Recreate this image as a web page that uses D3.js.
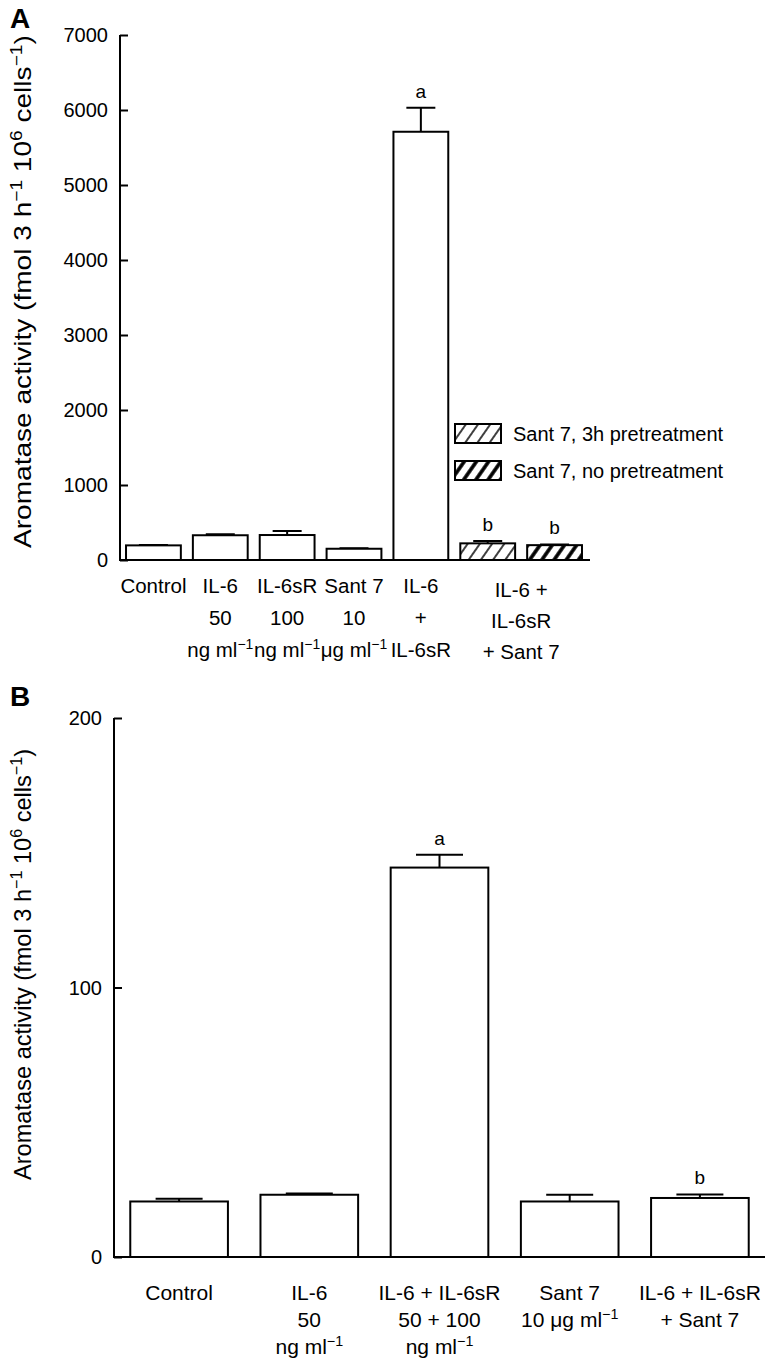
<!DOCTYPE html>
<html>
<head>
<meta charset="utf-8">
<script src="https://cdn.jsdelivr.net/npm/d3@7"></script>
<style>
  html, body { margin: 0; padding: 0; background: #fff; }
  svg text { font-family: "Liberation Sans", Arial, Helvetica, sans-serif; fill: #000; }
</style>
</head>
<body>
<svg id="chart" width="768" height="1365"></svg>
<script>
// ---------- Data: panel A ----------
const categoriesA = ["Control", "IL-6", "IL-6sR", "Sant 7", "IL-6 + IL-6sR", "Sant 7, 3h pretreatment", "Sant 7, no pretreatment"];
const valuesA = [195, 330, 333, 150, 5710, 222, 198];
const errorsA = [6, 12, 54, 8, 320, 33, 9];
const lettersA = ["", "", "", "", "a", "b", "b"];
const fillsA = ["none", "none", "none", "none", "none", "light", "dark"];
const ticksA = [0, 1000, 2000, 3000, 4000, 5000, 6000, 7000];
const labelsA = [
  [["Control"]],
  [["IL-6"], ["50"], ["ng ml", "sup:\u22121"]],
  [["IL-6sR"], ["100"], ["ng ml", "sup:\u22121"]],
  [["Sant 7"], ["10"], ["\u03bcg ml", "sup:\u22121"]],
  [["IL-6"], ["+"], ["IL-6sR"]]
];
const groupLabelA = [["IL-6 +"], ["IL-6sR"], ["+ Sant 7"]];
const legendA = ["Sant 7, 3h pretreatment", "Sant 7, no pretreatment"];

// ---------- Data: panel B ----------
const categoriesB = ["Control", "IL-6", "IL-6 + IL-6sR", "Sant 7", "IL-6 + IL-6sR + Sant 7"];
const valuesB = [20.6, 23.1, 144.5, 20.6, 21.9];
const errorsB = [1.0, 0.5, 4.8, 2.5, 1.3];
const lettersB = ["", "", "a", "", "b"];
const ticksB = [0, 100, 200];
const labelsB = [
  [["Control"]],
  [["IL-6"], ["50"], ["ng ml", "sup:\u22121"]],
  [["IL-6 + IL-6sR"], ["50 + 100"], ["ng ml", "sup:\u22121"]],
  [["Sant 7"], ["10 \u03bcg ml", "sup:\u22121"]],
  [["IL-6 + IL-6sR"], ["+ Sant 7"]]
];

const yTitleParts = ["Aromatase activity (fmol 3 h", "sup:\u22121", " 10", "sup:6", " cells", "sup:\u22121", ")"];

const svg = d3.select("#chart");
const defs = svg.append("defs");
function hatch(id, spacing, sw) {
  const p = defs.append("pattern").attr("id", id)
    .attr("patternUnits", "userSpaceOnUse")
    .attr("width", spacing).attr("height", spacing)
    .attr("patternTransform", "rotate(35)");
  p.append("rect").attr("width", spacing).attr("height", spacing).attr("fill", "#fff");
  p.append("line").attr("x1", spacing / 2).attr("y1", -1).attr("x2", spacing / 2).attr("y2", spacing + 1)
    .attr("stroke", "#000").attr("stroke-width", sw);
}
hatch("hLight", 10, 1.5);
hatch("hDark", 10, 3.6);
const fillOf = f => f === "light" ? "url(#hLight)" : f === "dark" ? "url(#hDark)" : "#fff";

// write a text made of parts (plain or "sup:...")
function richText(sel, parts, size) {
  parts.forEach(p => {
    if (p.startsWith("sup:")) {
      sel.append("tspan").attr("baseline-shift", "super").attr("font-size", size * 0.68).text(p.slice(4));
    } else {
      sel.append("tspan").text(p);
    }
  });
}

function panel(cfg) {
  const g = svg.append("g");
  const x = d3.scaleBand().domain(cfg.categories).range(cfg.xRange)
    .paddingInner(cfg.padIn).paddingOuter(cfg.padOut);
  const y = d3.scaleLinear().domain(cfg.yDomain).range(cfg.yRange);

  // y axis
  const yAxis = d3.axisRight(y).tickValues(cfg.ticks).tickSize(cfg.tickLen).tickFormat("");
  const ya = g.append("g").attr("transform", `translate(${cfg.xRange[0]},0)`).call(yAxis);
  ya.select(".domain").attr("stroke", "#000").attr("stroke-width", 2)
    .attr("d", `M0,${cfg.yRange[1]}V${cfg.yRange[0]}`);
  ya.selectAll(".tick line").attr("stroke", "#000").attr("stroke-width", 2);
  g.selectAll(".ylab").data(cfg.ticks).join("text")
    .attr("x", cfg.xRange[0] - cfg.labGap).attr("y", d => y(d) + 7)
    .attr("text-anchor", "end").attr("font-size", cfg.tickFs).text(d => d);

  // baseline
  g.append("line").attr("x1", cfg.xRange[0] - 1).attr("x2", cfg.baseEnd)
    .attr("y1", y(0)).attr("y2", y(0)).attr("stroke", "#000").attr("stroke-width", 2);

  // bars
  const data = cfg.categories.map((c, i) => ({ c, v: cfg.values[i], e: cfg.errors[i], l: cfg.letters[i], f: cfg.fills ? cfg.fills[i] : "none" }));
  g.selectAll(".err").data(data).join("path")
    .attr("d", d => {
      const cx = x(d.c) + x.bandwidth() / 2;
      return `M${cx},${y(d.v)}V${y(d.v + d.e)}M${cx - cfg.cap / 2},${y(d.v + d.e)}H${cx + cfg.cap / 2}`;
    })
    .attr("stroke", "#000").attr("stroke-width", 2).attr("fill", "none");
  g.selectAll(".bar").data(data).join("rect")
    .attr("x", d => x(d.c)).attr("width", x.bandwidth())
    .attr("y", d => y(d.v)).attr("height", d => y(0) - y(d.v))
    .attr("fill", d => fillOf(d.f)).attr("stroke", "#000").attr("stroke-width", 2);
  g.selectAll(".let").data(data.filter(d => d.l)).join("text")
    .attr("x", d => x(d.c) + x.bandwidth() / 2).attr("y", d => y(d.v + d.e) - cfg.letGap)
    .attr("text-anchor", "middle").attr("font-size", 19).text(d => d.l);

  // category labels
  cfg.labels.forEach((lines, i) => {
    const cx = x(cfg.categories[i]) + x.bandwidth() / 2;
    lines.forEach((parts, j) => {
      const t = g.append("text").attr("x", cx).attr("y", cfg.labY + j * cfg.lineH)
        .attr("text-anchor", "middle").attr("font-size", cfg.fs);
      richText(t, parts, cfg.fs);
    });
  });

  // y title (pinned at its lower end)
  const yt = g.append("text")
    .attr("transform", `translate(${cfg.titleX},${cfg.titleBottom}) rotate(-90) scale(${cfg.titleStretch},1)`)
    .attr("text-anchor", "start").attr("font-size", cfg.titleFs);
  richText(yt, yTitleParts, cfg.titleFs);

  // panel letter
  g.append("text").attr("x", 10).attr("y", cfg.panelY).attr("font-size", 28).attr("font-weight", "bold").text(cfg.panel);
  return { g, x, y };
}

// Panel A
const A = panel({
  panel: "A", panelY: 28,
  categories: categoriesA, values: valuesA, errors: errorsA, letters: lettersA, fills: fillsA,
  xRange: [120, 588], padIn: 0.18, padOut: 0.09, baseEnd: 590,
  yDomain: [0, 7000], yRange: [560, 35], ticks: ticksA, tickLen: 8, labGap: 12,
  fs: 20.5, tickFs: 20, cap: 29, letGap: 10,
  labels: labelsA, labY: 593, lineH: 32,
  titleX: 31, titleBottom: 548, titleFs: 23.6, titleStretch: 1.19
});
// group label for the Sant 7 bars
{
  const cx = (A.x(categoriesA[5]) + A.x(categoriesA[6]) + A.x.bandwidth()) / 2;
  groupLabelA.forEach((parts, j) => {
    const t = A.g.append("text").attr("x", cx).attr("y", 597 + j * 31)
      .attr("text-anchor", "middle").attr("font-size", 20.5);
    richText(t, parts, 20.5);
  });
  // legend
  const lg = A.g.append("g");
  legendA.forEach((name, i) => {
    const yy = 424 + i * 37;
    lg.append("rect").attr("x", 455).attr("y", yy).attr("width", 46).attr("height", 19)
      .attr("fill", fillOf(fillsA[5 + i])).attr("stroke", "#000").attr("stroke-width", 2);
    lg.append("text").attr("x", 513).attr("y", yy + 17).attr("font-size", 20).text(name);
  });
}

// Panel B
panel({
  panel: "B", panelY: 706,
  categories: categoriesB, values: valuesB, errors: errorsB, letters: lettersB,
  xRange: [114, 765], padIn: 0.25, padOut: 0.125, baseEnd: 765,
  yDomain: [0, 200], yRange: [1257, 718], ticks: ticksB, tickLen: 8, labGap: 12,
  fs: 21, tickFs: 20, cap: 47, letGap: 10,
  labels: labelsB, labY: 1300, lineH: 27,
  titleX: 31, titleBottom: 1180, titleFs: 23.6, titleStretch: 1
});
</script>
</body>
</html>
